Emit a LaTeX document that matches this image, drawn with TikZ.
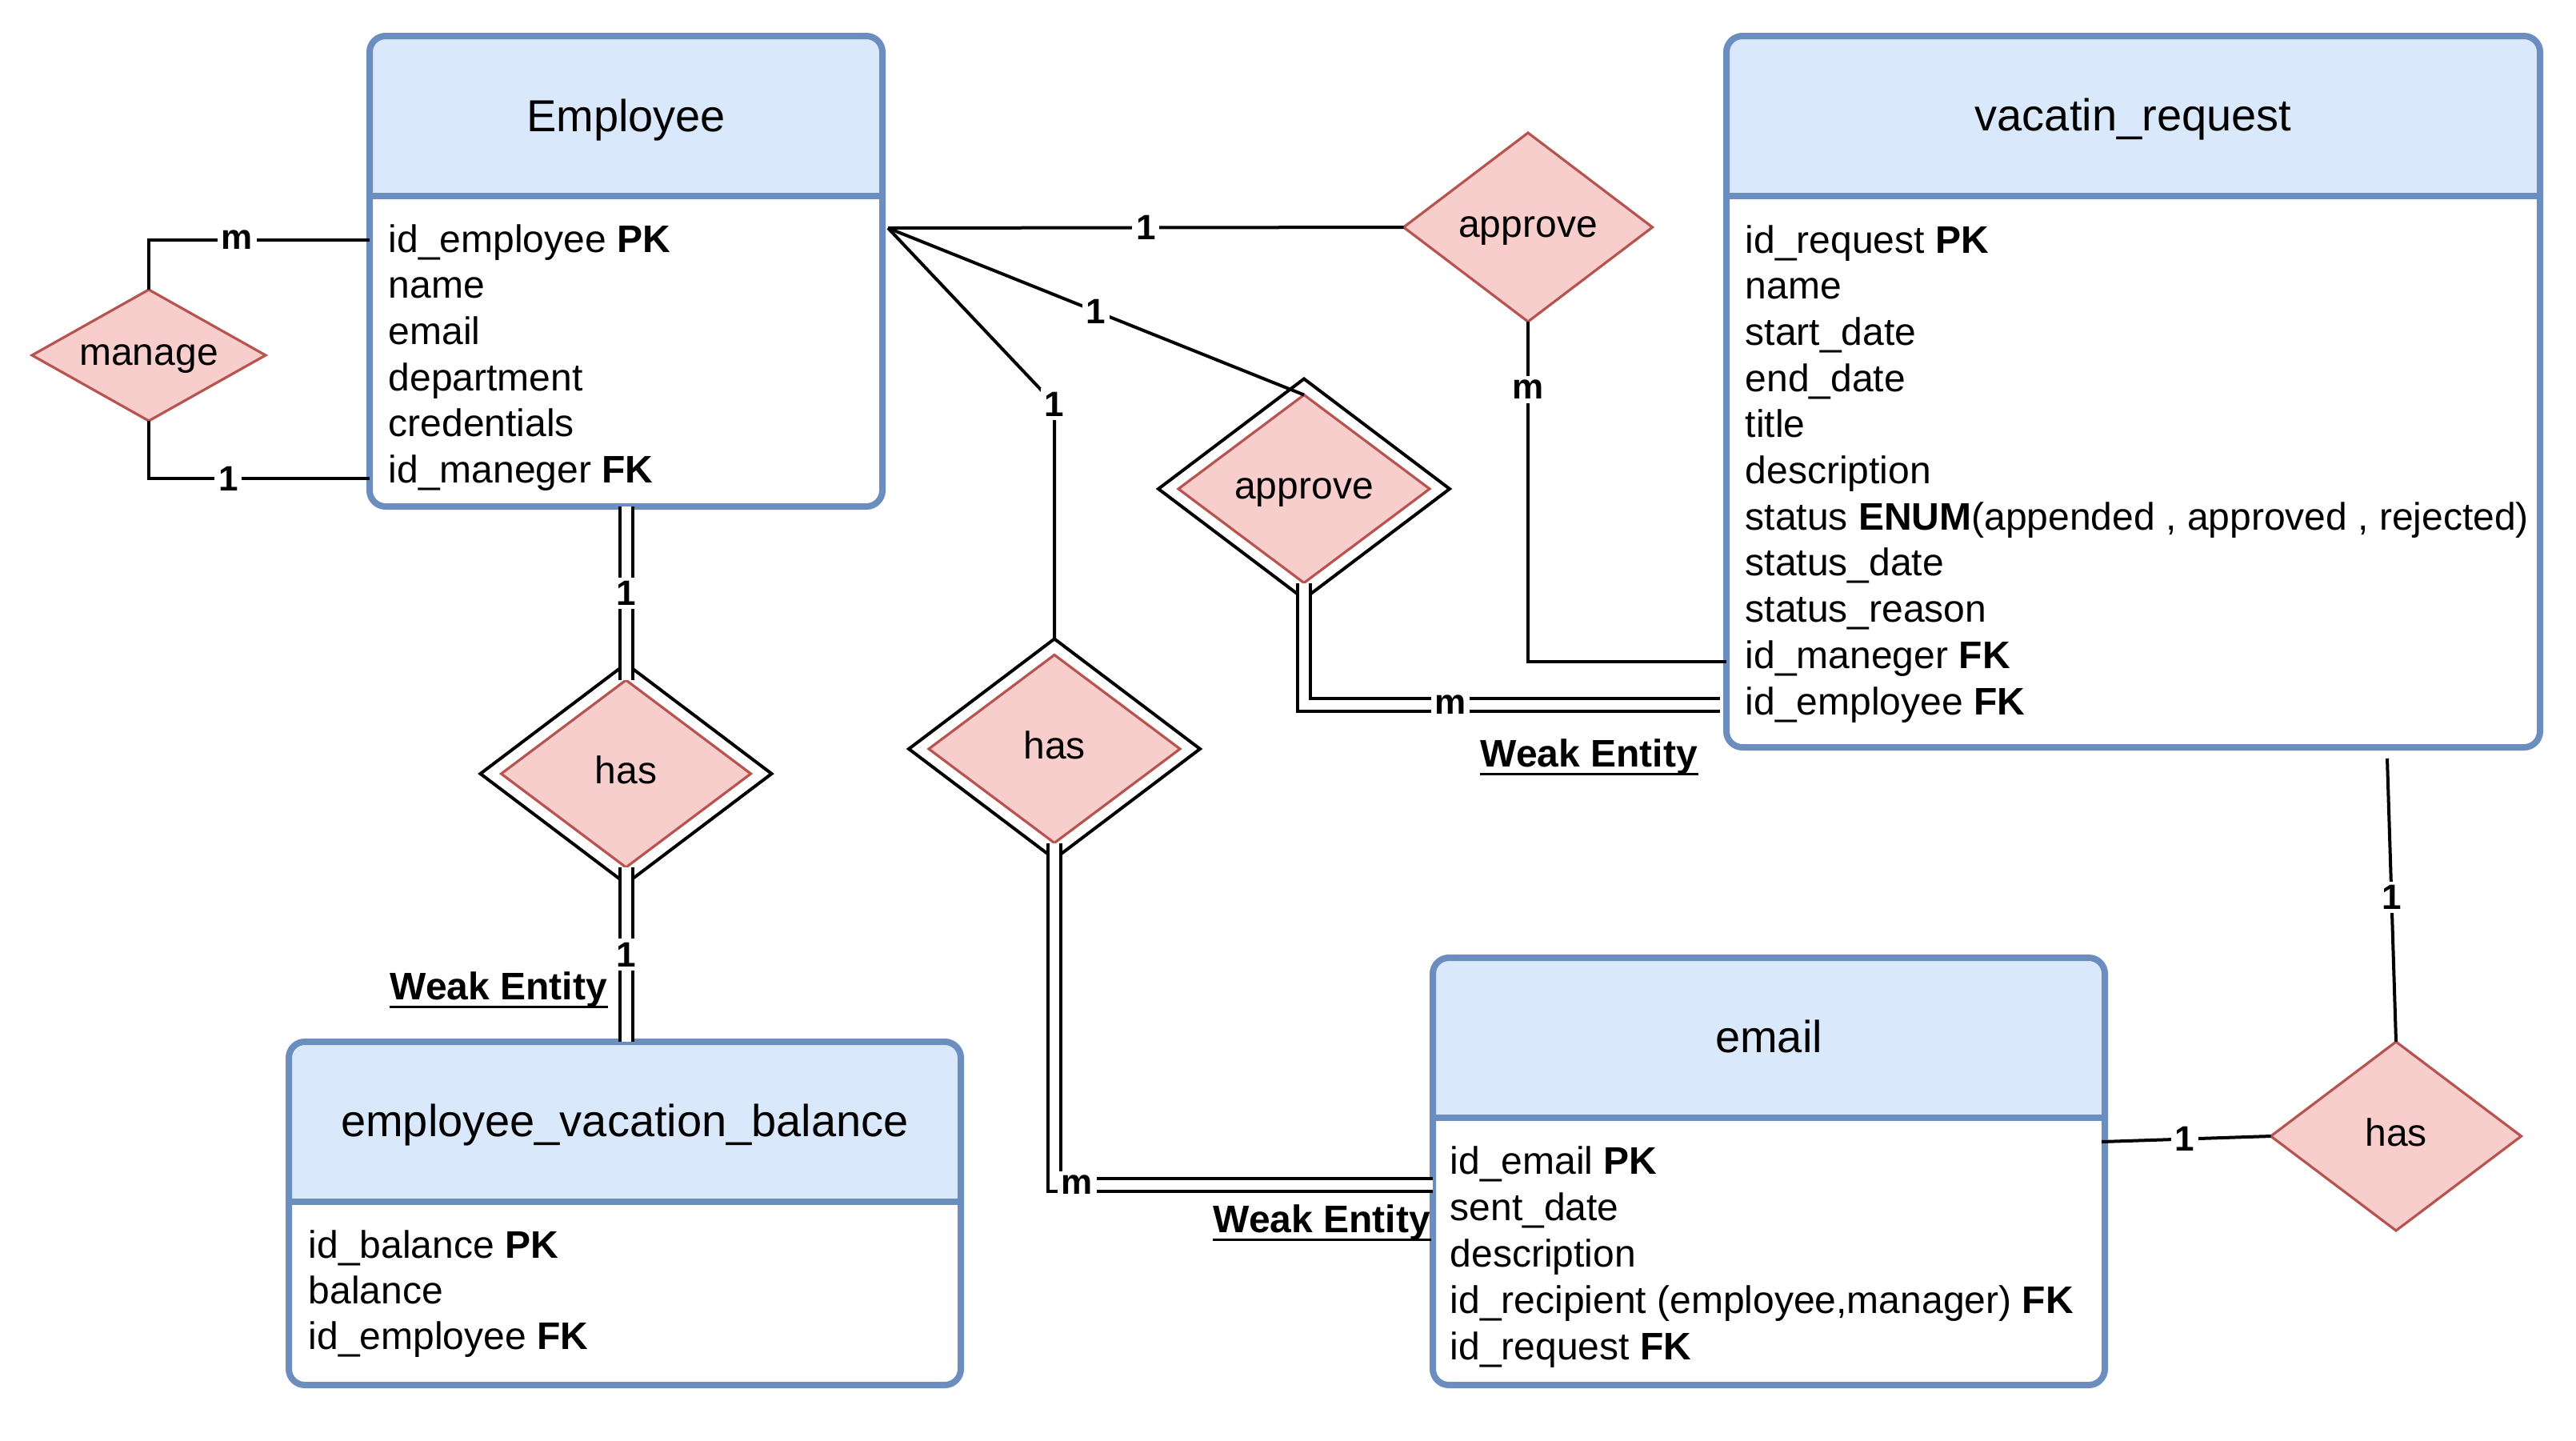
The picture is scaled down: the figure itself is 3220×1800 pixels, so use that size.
\documentclass[tikz,border=0pt]{standalone}
\usepackage{fontspec}
\setmainfont{Liberation Sans}
\usetikzlibrary{shapes.geometric}
\definecolor{hdrfill}{HTML}{DAE8FC}
\definecolor{hdrline}{HTML}{6C8EBF}
\definecolor{relfill}{HTML}{F8CECC}
\definecolor{relline}{HTML}{B85450}
\newcommand{\erbox}[4]{%
  \node[ebox, minimum width=#3, minimum height=#4] (#1) at #2 {};
  \begin{scope}
    \clip[rounded corners=5pt] (#1.south west) rectangle (#1.north east);
    \fill[hdrfill] (#1.north west) rectangle ([yshift=-50pt]#1.north east);
  \end{scope}
  \draw[eline, rounded corners=5pt] (#1.south west) rectangle (#1.north east);
  \draw[eline] ([yshift=-50pt]#1.north west) -- ([yshift=-50pt]#1.north east);
}
\begin{document}
\begin{tikzpicture}[x=0.25pt, y=-0.25pt,
  ebox/.style={rectangle, fill=white, inner sep=0pt, outer sep=0pt},
  eline/.style={draw=hdrline, line width=2pt},
  attr/.style={font=\fontsize{12pt}{14pt}\selectfont, inner sep=0pt, anchor=base west},
  title/.style={font=\fontsize{14pt}{16pt}\selectfont, inner sep=0pt, anchor=base},
  rel/.style={diamond, draw=relline, fill=relfill, line width=0.8pt, inner sep=0pt, outer sep=0pt,
    font=\fontsize{12pt}{14pt}\selectfont, text height=8.6pt, text depth=2.5pt},
  wrel/.style={diamond, draw=black, fill=white, line width=1pt, inner sep=0pt, outer sep=0pt},
  conn/.style={draw=black, line width=1pt},
  dbl/.style={draw=black, line width=1pt, double=white, double distance=3pt},
  card/.style={font=\fontsize{11pt}{13pt}\selectfont\bfseries, fill=white, inner sep=1.2pt},
  weak/.style={font=\fontsize{12pt}{14pt}\selectfont\bfseries, inner sep=0pt, anchor=base west},
  uline/.style={draw=black, line width=0.9pt}
]
\fill[white] (0,0) rectangle (3220,1800);
\useasboundingbox (0,0) rectangle (3220,1800);

% ---------- entities ----------
\erbox{emp}{(782.5,339)}{160.25pt}{147pt}
\erbox{vac}{(2666.5,489.5)}{254.25pt}{222.25pt}
\erbox{eml}{(2211,1464)}{210pt}{133.5pt}
\erbox{evb}{(781,1516.5)}{210pt}{107.25pt}

\node[title] (emp-t) at (782.5,164) {Employee};
\node[title] (vac-t) at (2666.5,163) {vacatin\_request};
\node[title] (eml-t) at (2211,1315) {email};
\node[title] (evb-t) at (781,1420) {employee\_vacation\_balance};

\foreach \t [count=\i] in {{id\_employee \textbf{PK}}, name, email, department, credentials, {id\_maneger \textbf{FK}}}
  \node[attr] (emp-r\i) at (485,{315+57.7*(\i-1)}) {\t};
\foreach \t [count=\i] in {{id\_request \textbf{PK}}, name, start\_date, end\_date, title, description,
  {status \textbf{ENUM}(appended , approved , rejected)}, status\_date, status\_reason,
  {id\_maneger \textbf{FK}}, {id\_employee \textbf{FK}}}
  \node[attr] (vac-r\i) at (2181,{316+57.7*(\i-1)}) {\t};
\foreach \t [count=\i] in {{id\_email \textbf{PK}}, sent\_date, description,
  {id\_recipient (employee,manager) \textbf{FK}}, {id\_request \textbf{FK}}}
  \node[attr] (eml-r\i) at (1812,{1467+58*(\i-1)}) {\t};
\foreach \t [count=\i] in {{id\_balance \textbf{PK}}, balance, {id\_employee \textbf{FK}}}
  \node[attr] (evb-r\i) at (385,{1572+57*(\i-1)}) {\t};

% ---------- relationships ----------
\node[rel, aspect=1.78, minimum width=73pt, minimum height=41pt] (manage) at (186,444) {manage};
\node[rel, aspect=1.32, minimum width=77.75pt, minimum height=59pt] (apv) at (1910,284) {approve};
\node[wrel, aspect=1.32, minimum width=91pt, minimum height=68.75pt] (apvW) at (1630,611) {};
\node[rel, aspect=1.34, minimum width=78.5pt, minimum height=58.75pt] (apvWin) at (1630,611) {approve};
\node[wrel, aspect=1.32, minimum width=91pt, minimum height=68.75pt] (hasM) at (1318,936) {};
\node[rel, aspect=1.34, minimum width=78.5pt, minimum height=58.75pt] (hasMin) at (1318,936) {has};
\node[wrel, aspect=1.32, minimum width=91pt, minimum height=68.75pt] (hasL) at (782.5,967) {};
\node[rel, aspect=1.34, minimum width=78pt, minimum height=58.5pt] (hasLin) at (782.5,967) {has};
\node[rel, aspect=1.32, minimum width=78.25pt, minimum height=59pt] (hasR) at (2995,1420) {has};

% ---------- connector end points ----------
\coordinate (empL1) at (462,300);
\coordinate (empL6) at (462,598);
\coordinate (empR) at (1110,285);
\coordinate (hasMk) at (1318,505);
\coordinate (vacL1) at (2158,827);
\coordinate (vacL2) at (2150,881);
\coordinate (emlL) at (1791,1481);
\coordinate (vacB) at (2984,948);
\coordinate (emlR) at (2627,1427);

% ---------- connectors ----------
\draw[conn] (empL1) -| node[card, pos=0.3] {m} (manage.north);
\draw[conn] (manage.south) |- node[card, pos=0.68] {1} (empL6);
\draw[conn] (empR) -- node[card, pos=0.5] {1} (apv.west);
\draw[conn] (empR) -- node[card, pos=0.5] {1} (apvWin.north);
\draw[conn] (empR) -- (hasMk) node[card] {1} -- (hasM.north);
\draw[conn] (apv.south) |- node[card, pos=0.1] {m} (vacL1);
\draw[dbl] (apvWin.south) |- node[card, pos=0.676] {m} (vacL2);
\draw[dbl] (emp.south) -- node[card, pos=0.5] {1} (hasLin.north);
\draw[dbl] (hasLin.south) -- node[card, pos=0.5] {1} (hasLin.south |- evb.north);
\draw[dbl] (hasMin.south) |- node[card, pos=0.53] {m} (emlL);
\draw[conn] (vacB) -- node[card, pos=0.49] {1} (hasR.north);
\draw[conn] (emlR) -- node[card, pos=0.49] {1} (hasR.west);

% ---------- weak entity notes ----------
\node[weak] (wk1) at (1850,958) {Weak Entity};
\node[weak] (wk2) at (487,1249) {Weak Entity};
\node[weak] (wk3) at (1516,1540) {Weak Entity};
\foreach \w in {wk1,wk2,wk3}
  \draw[uline] ([yshift=-2.4pt]\w.base west) -- ([yshift=-2.4pt]\w.base east);
\end{tikzpicture}
\end{document}
